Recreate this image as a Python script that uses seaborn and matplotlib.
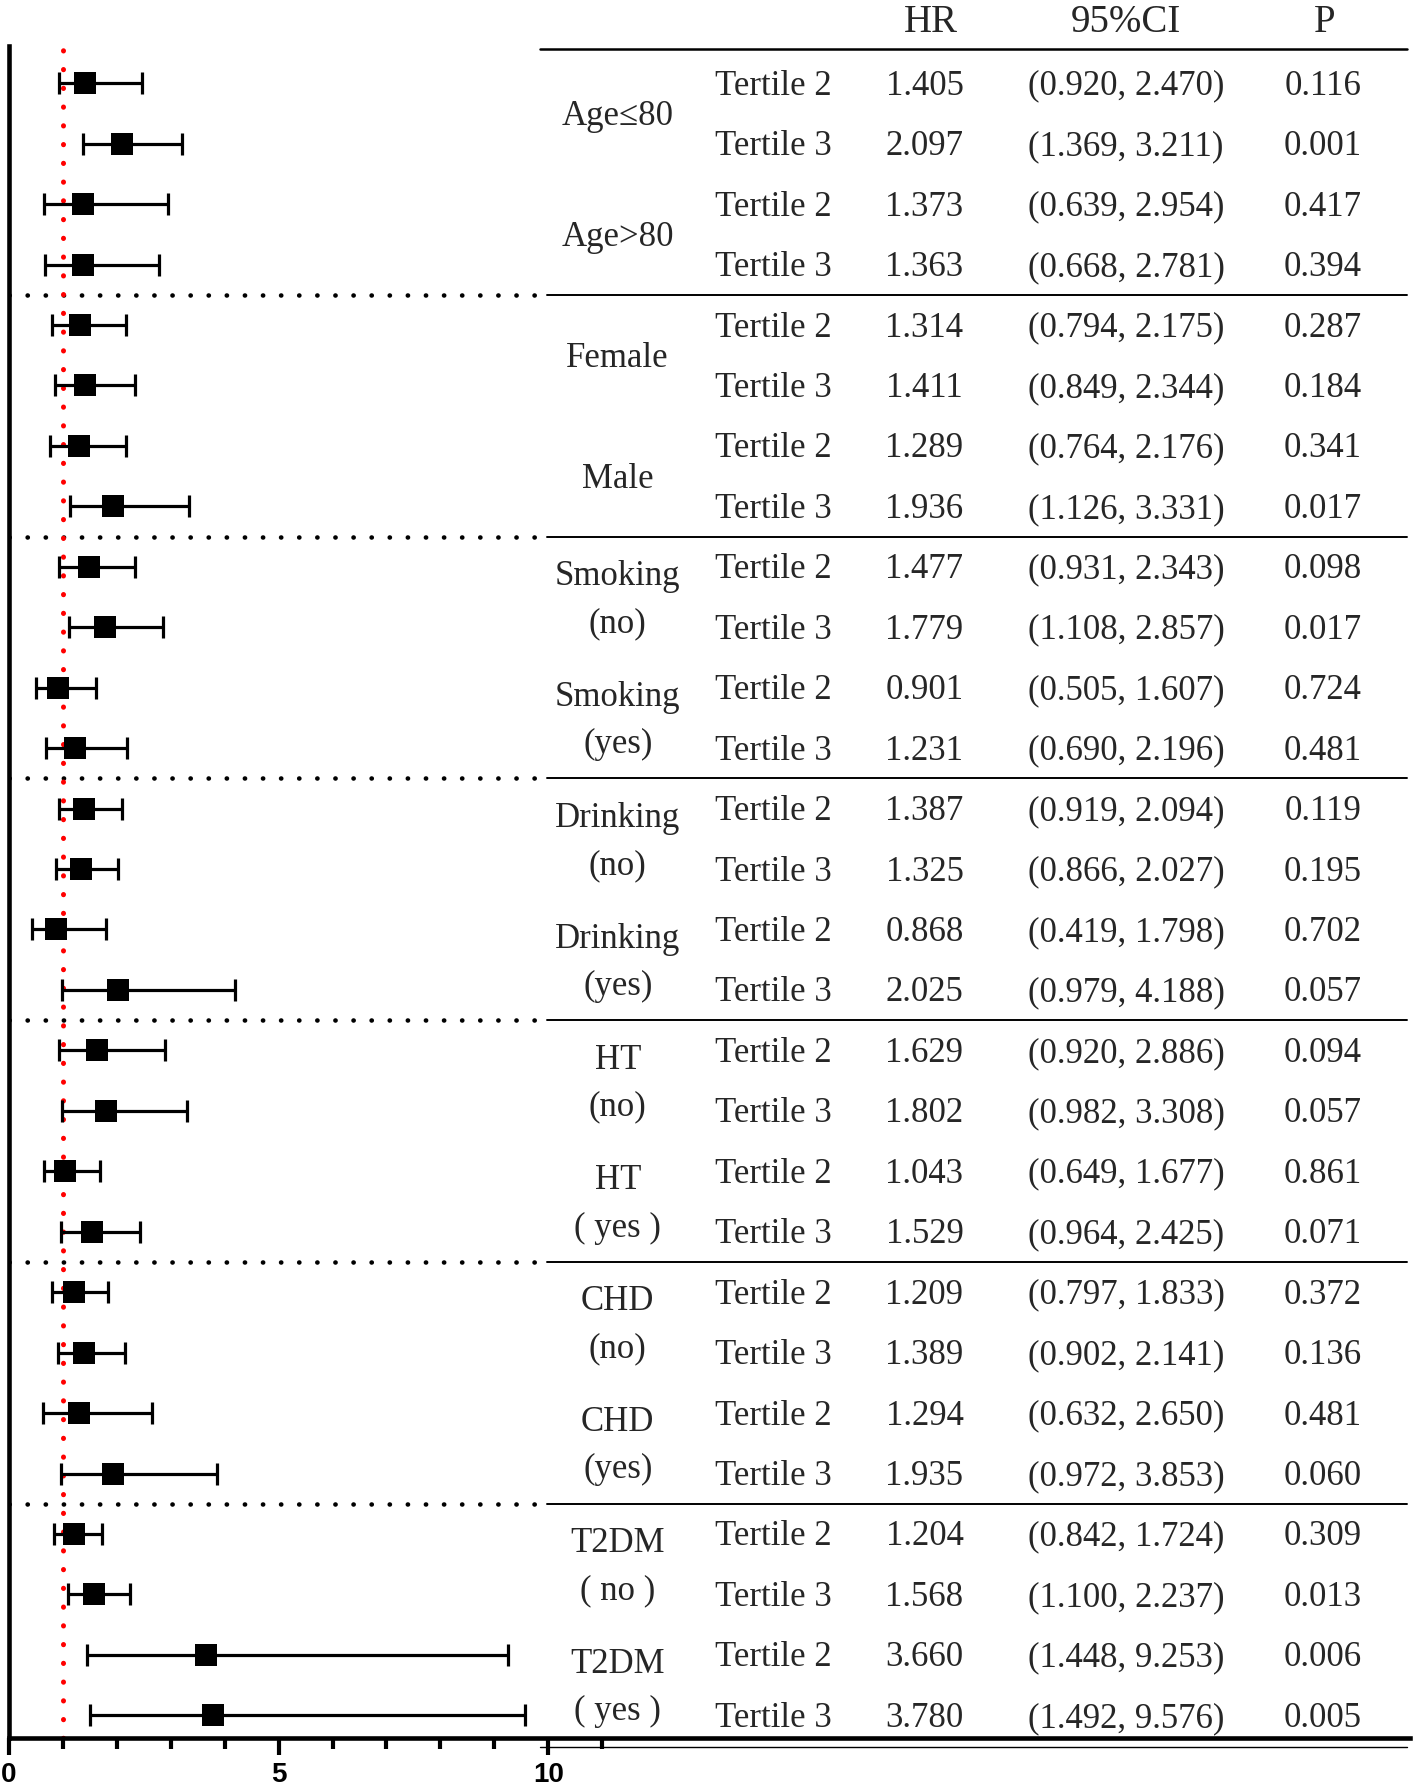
import numpy as np
import pandas as pd
import matplotlib
matplotlib.use("Agg")
import matplotlib.pyplot as plt
import seaborn as sns

# ---- data ----
groups = ["Age≤80", "Age>80", "Female", "Male",
          "Smoking\n(no)", "Smoking\n(yes)", "Drinking\n(no)", "Drinking\n(yes)",
          "HT\n(no)", "HT\n( yes )", "CHD\n(no)", "CHD\n(yes)",
          "T2DM\n( no )", "T2DM\n( yes )"]
tertiles = ["Tertile 2", "Tertile 3"] * 14
hr = [1.405, 2.097, 1.373, 1.363, 1.314, 1.411, 1.289, 1.936,
      1.477, 1.779, 0.901, 1.231, 1.387, 1.325, 0.868, 2.025,
      1.629, 1.802, 1.043, 1.529, 1.209, 1.389, 1.294, 1.935,
      1.204, 1.568, 3.660, 3.780]
ci_low = [0.920, 1.369, 0.639, 0.668, 0.794, 0.849, 0.764, 1.126,
          0.931, 1.108, 0.505, 0.690, 0.919, 0.866, 0.419, 0.979,
          0.920, 0.982, 0.649, 0.964, 0.797, 0.902, 0.632, 0.972,
          0.842, 1.100, 1.448, 1.492]
ci_high = [2.470, 3.211, 2.954, 2.781, 2.175, 2.344, 2.176, 3.331,
           2.343, 2.857, 1.607, 2.196, 2.094, 2.027, 1.798, 4.188,
           2.886, 3.308, 1.677, 2.425, 1.833, 2.141, 2.650, 3.853,
           1.724, 2.237, 9.253, 9.576]
p_vals = ["0.116", "0.001", "0.417", "0.394", "0.287", "0.184", "0.341", "0.017",
          "0.098", "0.017", "0.724", "0.481", "0.119", "0.195", "0.702", "0.057",
          "0.094", "0.057", "0.861", "0.071", "0.372", "0.136", "0.481", "0.060",
          "0.309", "0.013", "0.006", "0.005"]

df = pd.DataFrame({"row": np.arange(len(hr)), "hr": hr, "lo": ci_low, "hi": ci_high})

sns.set_theme(style="ticks")
plt.rcParams["font.family"] = ["Liberation Serif", "DejaVu Sans"]

fig = plt.figure(figsize=(14.16, 17.87), dpi=100)
ax = fig.add_axes([8 / 1245, 1 - 1525 / 1568, (1240 - 8) / 1245, (1525 - 40) / 1568])

# CI whiskers + squares
ax.errorbar(df["hr"], df["row"], xerr=[df["hr"] - df["lo"], df["hi"] - df["hr"]],
            fmt="none", ecolor="black", elinewidth=2.3, capsize=8, capthick=2.3, zorder=3)
sns.scatterplot(data=df, x="hr", y="row", marker="s", s=240, color="black",
                edgecolor="black", linewidth=0, ax=ax, zorder=4, legend=False)

# reference line at HR = 1
ax.axvline(1, color="red", lw=3.6, ls=(0, (0.05, 3.7)), dash_capstyle="round", zorder=2)

ax.set_xlim(0, (1240 - 8) / 47.4)
ax.set_ylim(27.375, -0.622)
ax.set_xlabel("")
ax.set_ylabel("")
ax.set_yticks([])
ax.set_xticks([0, 5, 10])
ax.set_xticks([1, 2, 3, 4, 6, 7, 8, 9, 11], minor=True)
ax.set_xticklabels(["0", "5", "10"], fontfamily="Liberation Sans", fontweight="bold", fontsize=20)
ax.tick_params(axis="x", which="major", length=12, width=3, direction="out", pad=5, colors="black")
ax.tick_params(axis="x", which="minor", length=8, width=3, direction="out", colors="black")
for s in ["top", "right"]:
    ax.spines[s].set_visible(False)
ax.spines["left"].set_linewidth(3.3)
ax.spines["bottom"].set_linewidth(3.3)
ax.spines["left"].set_color("black")
ax.spines["bottom"].set_color("black")

# table columns (data x)
x_grp, x_ter, x_hr, x_ci, x_p = 11.29, 14.18, 16.98, 20.72, 24.37
tab_l, tab_r, dot_r = 9.85, 25.93, 9.98
fs = 25
dy = 0.05

for h, xx in zip(["HR", "95%CI", "P"], [17.09, 20.72, 24.41]):
    ax.text(xx, -1.0, h, ha="center", va="center", fontsize=28, clip_on=False)
ax.plot([tab_l, tab_r], [-0.566, -0.566], color="black", lw=1.8, clip_on=False)

for i in range(len(hr)):
    ax.text(x_ter, i + dy, tertiles[i], ha="center", va="center", fontsize=fs)
    ax.text(x_hr, i + dy, f"{hr[i]:.3f}", ha="center", va="center", fontsize=fs)
    ax.text(x_ci, i + dy, f"({ci_low[i]:.3f}, {ci_high[i]:.3f})", ha="center", va="center", fontsize=fs)
    ax.text(x_p, i + dy, p_vals[i], ha="center", va="center", fontsize=fs)

for g, name in enumerate(groups):
    mid = 2 * g + 0.5 + dy
    lines = name.split("\n")
    if len(lines) == 1:
        ax.text(x_grp, mid, lines[0], ha="center", va="center", fontsize=fs)
    else:
        ax.text(x_grp, mid - 0.39, lines[0], ha="center", va="center", fontsize=fs)
        ax.text(x_grp, mid + 0.39, lines[1], ha="center", va="center", fontsize=fs)

# separators between blocks: dotted over plot, solid over table
for k in range(1, 7):
    y = 4 * k - 0.5
    ax.plot([0, dot_r], [y, y], color="black", lw=3.3, ls=(0, (0.05, 3.9)),
            dash_capstyle="round", zorder=1)
    ax.plot([dot_r, tab_r], [y, y], color="black", lw=1.4)

# thin second line under the bottom rule of the table
ax.plot([tab_l, tab_r], [27.53, 27.53], color="black", lw=1.0, clip_on=False)

fig.savefig("out.png", dpi=100)
